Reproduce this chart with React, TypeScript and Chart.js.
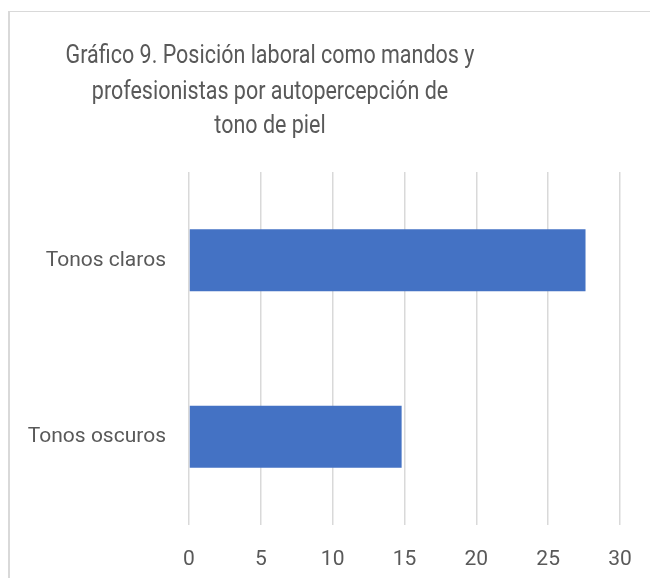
import React, { useEffect, useRef } from "react";
import { Chart, registerables } from "chart.js";

Chart.register(...registerables);

const TITLE_LINES = [
  "Gráfico 9. Posición laboral como mandos y",
  "profesionistas por autopercepción de",
  "tono de piel",
];
const CATEGORIES = ["Tonos claros", "Tonos oscuros"];
const VALUES = [27.6, 14.8];
const X_MIN = 0;
const X_MAX = 30;
const X_STEP = 5;

const FONT = "Roboto, 'Open Sans', sans-serif";
const TEXT_COLOR = "#595959";
const BAR_COLOR = "#4472C4";
const GRID_COLOR = "#d9d9d9";

const titlePlugin = {
  id: "customTitle",
  afterDraw(chart: any) {
    const ctx = chart.ctx;
    ctx.save();
    ctx.fillStyle = TEXT_COLOR;
    ctx.font = `21.5px ${FONT}`;
    ctx.textAlign = "center";
    ctx.textBaseline = "alphabetic";
    const cx = 270;
    const sy = 1.2;
    const baselines = [63, 99, 133];
    ctx.scale(1, sy);
    TITLE_LINES.forEach((line, i) => ctx.fillText(line, cx, baselines[i] / sy));
    ctx.restore();
  },
};

export default function App() {
  const ref = useRef<HTMLCanvasElement | null>(null);
  useEffect(() => {
    if (!ref.current) return;
    const chart = new Chart(ref.current, {
      type: "bar",
      data: {
        labels: CATEGORIES,
        datasets: [
          {
            data: VALUES,
            backgroundColor: BAR_COLOR,
            borderWidth: 0,
            barPercentage: 0.35,
            categoryPercentage: 1,
          },
        ],
      },
      options: {
        indexAxis: "y",
        responsive: false,
        animation: false,
        layout: { padding: { top: 172, left: 9, right: 30, bottom: 0 } },
        plugins: {
          legend: { display: false },
          title: { display: false },
          tooltip: { enabled: false },
        },
        scales: {
          x: {
            min: X_MIN,
            max: X_MAX,
            ticks: {
              stepSize: X_STEP,
              color: TEXT_COLOR,
              font: { family: FONT, size: 21 },
              padding: 0,
            },
            grid: {
              color: GRID_COLOR,
              lineWidth: 1.5,
              drawTicks: true,
              tickLength: 22,
              tickColor: "rgba(0,0,0,0)",
            },
            border: { display: false },
            afterFit: (scale: any) => {
              scale.height = 53;
            },
          },
          y: {
            ticks: {
              color: TEXT_COLOR,
              font: { family: FONT, size: 21 },
              padding: 23,
            },
            grid: { display: false, drawTicks: false },
            border: { display: false },
            afterFit: (scale: any) => {
              scale.width = 180;
            },
          },
        },
      },
      plugins: [titlePlugin],
    });
    return () => chart.destroy();
  }, []);

  return (
    <div
      style={{
        position: "fixed",
        left: 0,
        top: 0,
        width: 650,
        height: 578,
        overflow: "hidden",
        background: "#fff",
      }}
    >
      <div
        style={{
          position: "absolute",
          left: 8,
          top: 11,
          width: 1000,
          height: 1000,
          borderLeft: "2px solid #d9d9d9",
          borderTop: "1px solid #d9d9d9",
        }}
      />
      <canvas
        ref={ref}
        width={650}
        height={578}
        style={{ position: "absolute", left: 0, top: 0 }}
      />
    </div>
  );
}
